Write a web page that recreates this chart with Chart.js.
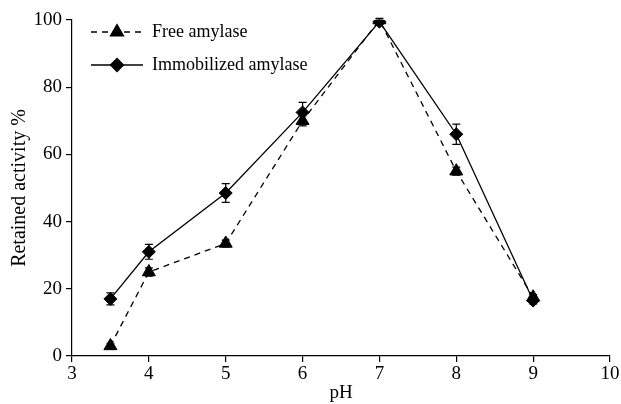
<!DOCTYPE html>
<html lang="en">
<head>
<meta charset="UTF-8">
<title>Retained activity vs pH</title>
<script src="https://cdn.jsdelivr.net/npm/chart.js@4/dist/chart.umd.min.js"></script>
<style>
  body { margin: 0; background: #fff; }
  #wrap { width: 621px; height: 404px; }
</style>
</head>
<body>
<div id="wrap"><canvas id="chart" width="621" height="404"></canvas></div>
<script>
// data
const phValues = [3.5, 4, 5, 6, 7, 8, 9];
const freeActivity = [3, 25, 33.5, 70, 100, 55, 17.5];
const freeError = [0.8, 1.2, 1, 1.5, 0.5, 1.2, 0.8];
const immobActivity = [17, 31, 48.5, 72.5, 99.5, 66, 16.5];
const immobError = [1.8, 2.2, 2.8, 3, 0.5, 3, 1];
const xTicks = [3, 4, 5, 6, 7, 8, 9, 10];
const yTicks = [0, 20, 40, 60, 80, 100];

const serif = "'Liberation Serif', 'DejaVu Serif', serif";

function pts(ys) {
    return phValues.map((x, i) => ({ x: x, y: ys[i] }));
}

// error bars, drawn under the markers
const errorBars = {
    id: 'errorBars',
    beforeDatasetsDraw(chart) {
        const ctx = chart.ctx;
        const xs = chart.scales.x, ys = chart.scales.y;
        chart.data.datasets.forEach(ds => {
            ctx.save();
            ctx.strokeStyle = '#000';
            ctx.lineWidth = 1.2;
            ds.data.forEach((p, i) => {
                const e = ds.errors[i];
                const px = xs.getPixelForValue(p.x);
                const top = ys.getPixelForValue(p.y + e);
                const bot = ys.getPixelForValue(p.y - e);
                ctx.beginPath();
                ctx.moveTo(px, top); ctx.lineTo(px, bot);
                ctx.moveTo(px - 4, top); ctx.lineTo(px + 4, top);
                ctx.moveTo(px - 4, bot); ctx.lineTo(px + 4, bot);
                ctx.stroke();
            });
            ctx.restore();
        });
    }
};

// legend inside the plot, line sample with marker
const insideLegend = {
    id: 'insideLegend',
    afterDraw(chart) {
        const ctx = chart.ctx;
        const x0 = 91, x1 = 143, tx = 152;
        const rows = [32, 65];
        ctx.save();
        chart.data.datasets.forEach((ds, i) => {
            const y = rows[i];
            ctx.strokeStyle = '#000';
            ctx.lineWidth = 1.3;
            ctx.setLineDash(ds.borderDash || []);
            ctx.beginPath();
            ctx.moveTo(x0, y); ctx.lineTo(x1, y);
            ctx.stroke();
            ctx.setLineDash([]);
            Chart.helpers.drawPoint(ctx, {
                pointStyle: ds.pointStyle,
                radius: ds.pointRadius,
                borderWidth: 1
            }, (x0 + x1) / 2, y);
            ctx.fillStyle = '#000';
            ctx.font = '18px ' + serif;
            ctx.textBaseline = 'middle';
            ctx.fillText(ds.label, tx, y);
        });
        ctx.restore();
    }
};

new Chart(document.getElementById('chart'), {
    type: 'line',
    data: {
        datasets: [
            {
                label: 'Free amylase',
                data: pts(freeActivity),
                errors: freeError,
                borderColor: '#000',
                backgroundColor: '#000',
                borderWidth: 1.3,
                borderDash: [6, 5],
                pointStyle: 'triangle',
                pointRadius: 7.5,
                pointBorderWidth: 1,
                tension: 0
            },
            {
                label: 'Immobilized amylase',
                data: pts(immobActivity),
                errors: immobError,
                borderColor: '#000',
                backgroundColor: '#000',
                borderWidth: 1.3,
                pointStyle: 'rectRot',
                pointRadius: 6.5,
                pointBorderWidth: 1,
                tension: 0
            }
        ]
    },
    options: {
        responsive: false,
        animation: false,
        layout: { padding: { top: 20, right: 11, left: 0, bottom: 0 } },
        plugins: {
            legend: { display: false },
            tooltip: { enabled: false }
        },
        scales: {
            x: {
                type: 'linear',
                min: 3,
                max: 10,
                afterBuildTicks: s => { s.ticks = xTicks.map(v => ({ value: v })); },
                afterFit: s => { s.height = 48; },
                grid: { drawOnChartArea: false, drawTicks: true, tickLength: 6, color: '#000', lineWidth: 1.2 },
                border: { color: '#000', width: 1.2 },
                ticks: { color: '#000', font: { family: serif, size: 19 }, padding: 1, maxRotation: 0 },
                title: { display: true, text: 'pH', color: '#000', font: { family: serif, size: 19 }, padding: { top: 0, bottom: 0 } }
            },
            y: {
                min: 0,
                max: 100,
                afterBuildTicks: s => { s.ticks = yTicks.map(v => ({ value: v })); },
                afterFit: s => { s.width = 72; },
                grid: { drawOnChartArea: false, drawTicks: true, tickLength: 6, color: '#000', lineWidth: 1.2 },
                border: { color: '#000', width: 1.2 },
                ticks: { color: '#000', font: { family: serif, size: 19 }, padding: 4 },
                title: { display: true, text: 'Retained activity %', color: '#000', font: { family: serif, size: 20 }, padding: { top: 8, bottom: 0 } }
            }
        }
    },
    plugins: [errorBars, insideLegend]
});
</script>
</body>
</html>
